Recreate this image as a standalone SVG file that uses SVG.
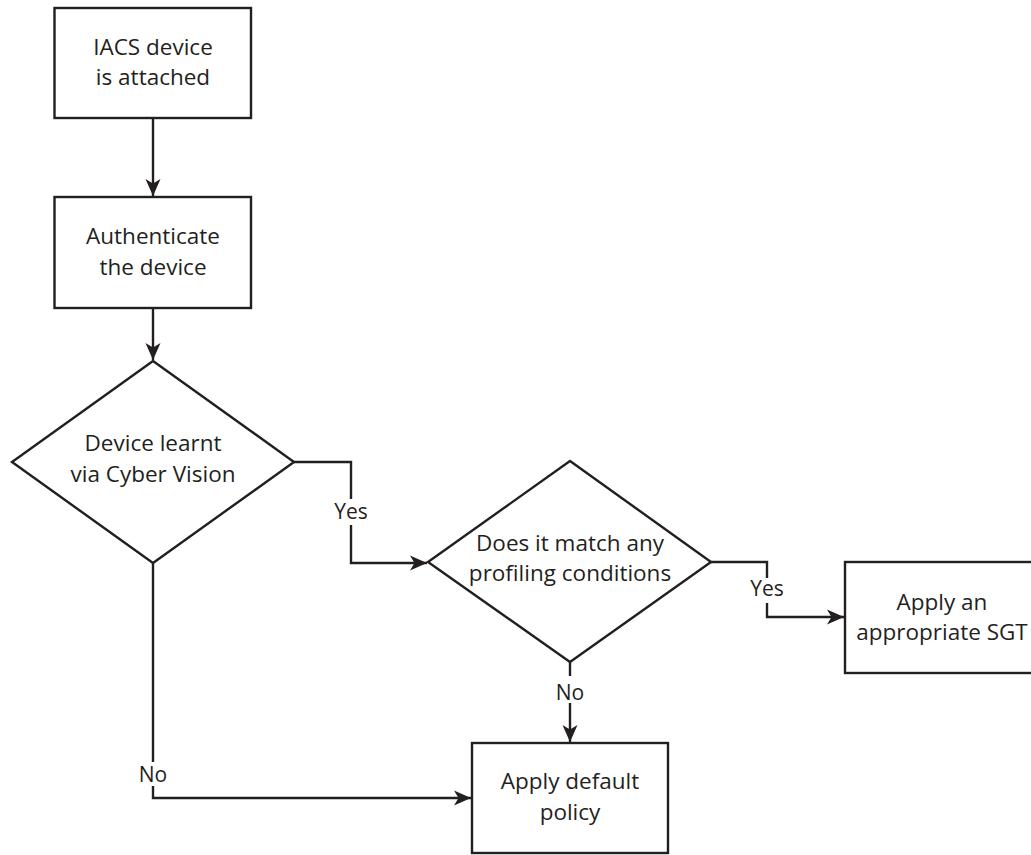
<svg xmlns="http://www.w3.org/2000/svg" width="1031" height="855" viewBox="0 0 1031 855">
<style>
.n{fill:#fff;stroke:#231f20;stroke-width:2.4}
.t{font-family:"Open Sans","Liberation Sans",sans-serif;font-size:22.5px;fill:#231f20;text-anchor:middle}
.l{font-family:"Open Sans","Liberation Sans",sans-serif;font-size:21px;fill:#231f20;text-anchor:middle}
.c{fill:none;stroke:#231f20;stroke-width:2.4}
</style>
<defs>
<marker id="ah" markerUnits="userSpaceOnUse" markerWidth="20" markerHeight="20" viewBox="-18 -9 20 18" refX="0" refY="0" orient="auto">
<path d="M0,0 L-17,-7.5 L-12.5,0 L-17,7.5 Z" fill="#231f20"/>
</marker>
</defs>
<rect width="1031" height="855" fill="#fff"/>
<g id="connectors">
<path class="c" d="M153,118 V196" marker-end="url(#ah)"/>
<path class="c" d="M153,308 V360" marker-end="url(#ah)"/>
<path class="c" d="M294,462 H351 V499"/>
<path class="c" d="M351,525 V563 H427" marker-end="url(#ah)"/>
<text class="l" x="351" y="519">Yes</text>
<path class="c" d="M711,562 H767 V578"/>
<path class="c" d="M767,603 V617 H844" marker-end="url(#ah)"/>
<text class="l" x="767" y="596">Yes</text>
<path class="c" d="M570,662 V676"/>
<path class="c" d="M570,703 V742" marker-end="url(#ah)"/>
<text class="l" x="570" y="700">No</text>
<path class="c" d="M153,563 V762"/>
<path class="c" d="M153,786 V798 H471" marker-end="url(#ah)"/>
<text class="l" x="153" y="782">No</text>
</g>
<g id="n1">
<rect class="n" x="54.5" y="8" width="196.5" height="110"/>
<text class="t" x="153" y="55">IACS device</text>
<text class="t" x="153" y="85">is attached</text>
</g>
<g id="n2">
<rect class="n" x="54.5" y="197" width="196.5" height="111"/>
<text class="t" x="153" y="244">Authenticate</text>
<text class="t" x="153" y="275">the device</text>
</g>
<g id="n3">
<polygon class="n" points="153,361 294,462 153,563 12,462"/>
<text class="t" x="153" y="451">Device learnt</text>
<text class="t" x="153" y="482">via Cyber Vision</text>
</g>
<g id="n4">
<polygon class="n" points="570,461 711,562 570,662 428,562"/>
<text class="t" x="570" y="551">Does it match any</text>
<text class="t" x="570" y="581">profiling conditions</text>
</g>
<g id="n5">
<rect class="n" x="845" y="562" width="196" height="111"/>
<text class="t" x="942" y="610">Apply an</text>
<text class="t" x="942" y="640">appropriate SGT</text>
</g>
<g id="n6">
<rect class="n" x="472" y="743" width="196" height="110"/>
<text class="t" x="570" y="789">Apply default</text>
<text class="t" x="570" y="820">policy</text>
</g>
</svg>
